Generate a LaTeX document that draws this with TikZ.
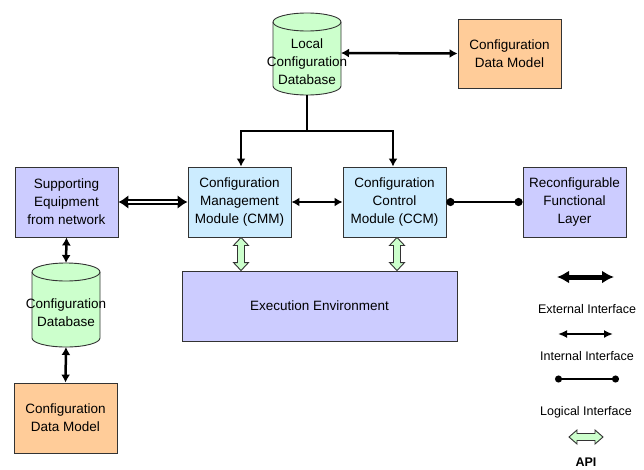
\documentclass[tikz,border=0pt]{standalone}
\usepackage{fontspec}
\setmainfont{Liberation Sans}
\usetikzlibrary{arrows.meta,calc}
\definecolor{lav}{HTML}{CCCCFF}
\definecolor{lblue}{HTML}{CCECFF}
\definecolor{lgreen}{HTML}{CCFFCC}
\definecolor{lorange}{HTML}{FFCC99}
\definecolor{bord}{HTML}{333333}
\tikzset{
  box/.style={draw=bord, line width=0.9pt, minimum width=103pt, minimum height=70pt, inner sep=0pt, align=center, font=\fontsize{13.5}{18}\selectfont},
  lavbox/.style={box, fill=lav},
  bluebox/.style={box, fill=lblue},
  orbox/.style={box, fill=lorange, minimum height=69pt},
  dbtext/.style={inner sep=0pt, align=center, font=\fontsize{13.5}{18}\selectfont},
  dbshape/.style={draw=bord, line width=0.9pt, fill=lgreen},
  intarrow/.style={line width=2.5pt, {Latex[length=8pt,width=9pt]}-{Latex[length=8pt,width=9pt]}},
  treearrow/.style={line width=2.5pt, -{Latex[length=8pt,width=9pt]}},
  extarrow/.style={line width=6.5pt, {Latex[length=10pt,width=14pt]}-{Latex[length=10pt,width=14pt]}},
  extgap/.style={white, line width=1.4pt, shorten <=10pt, shorten >=10pt},
  logarrow/.style={line width=2.4pt, {Circle[length=8pt,width=8pt]}-{Circle[length=8pt,width=8pt]}},
  apistyle/.style={draw=bord, line width=0.9pt, fill=lgreen, line join=miter},
  legtext/.style={inner sep=0pt, font=\fontsize{12.5}{15}\selectfont},
}
\begin{document}
\begin{tikzpicture}[x=1pt,y=-1pt]
\useasboundingbox (0,0) rectangle (644,469);
\clip (0,0) rectangle (644,469);
% Local configuration database cylinder
\filldraw[dbshape] (273,22) -- (273,86) arc[start angle=180,end angle=0,x radius=34,y radius=9]
  -- (341,22) arc[start angle=0,end angle=-180,x radius=34,y radius=9] -- cycle;
\draw[draw=bord, line width=0.9pt] (273,22) arc[start angle=180,end angle=0,x radius=34,y radius=9];
\node[dbtext] (ldb) at (307,62) {Local\\Configuration\\Database};
\coordinate (ldbS) at (307,95);
\coordinate (ldbE) at (341,53);
\coordinate (junc) at (307,131);

% Configuration database cylinder (left)
\filldraw[dbshape] (32,272) -- (32,338) arc[start angle=180,end angle=0,x radius=34,y radius=9]
  -- (100,272) arc[start angle=0,end angle=-180,x radius=34,y radius=9] -- cycle;
\draw[draw=bord, line width=0.9pt] (32,272) arc[start angle=180,end angle=0,x radius=34,y radius=9];
\node[dbtext] (cdb) at (66,313) {Configuration\\Database};
\coordinate (cdbN) at (66,263);
\coordinate (cdbS) at (66,347);

% Boxes
\node[orbox] (cdm1) at (509.5,53.5) {Configuration\\Data Model};
\node[lavbox] (sup) at (66.5,202) {Supporting\\Equipment\\from network};
\node[bluebox] (cmm) at (239.5,202) {Configuration\\Management\\Module (CMM)};
\node[bluebox] (ccm) at (394.5,202) {Configuration\\Control\\Module (CCM)};
\node[lavbox] (rfl) at (574.5,202) {Reconfigurable\\Functional\\Layer};
\node[lavbox, minimum width=275pt] (exec) at (319.5,306) {Execution Environment};
\node[orbox, minimum width=103pt, minimum height=70pt] (cdm2) at (65.5,418) {Configuration\\Data Model};

% Connectors
\draw[intarrow] (ldbE) -- (cdm1.west);
\draw[line width=2.5pt] (ldbS) -- (junc);
\draw[treearrow] (junc) -| ([xshift=1.5pt]cmm.north);
\draw[treearrow] (junc) -| ([xshift=-1.5pt]ccm.north);
\draw[extarrow] (sup.east) -- (cmm.west);
\draw[extgap] (sup.east) -- (cmm.west);
\draw[intarrow] (cmm.east) -- (ccm.west);
\draw[logarrow] (ccm.east) -- (rfl.west);
\draw[intarrow] (sup.south) -- (cdbN);
\draw[intarrow] (cdbS) -- (cdm2.north);

% API arrows (vertical)
\draw[apistyle] let \p1=([xshift=1.5pt]cmm.south), \p2=(exec.north) in
  (\x1,\y1) -- (\x1+7.5pt,\y1-8pt) -- (\x1+3.5pt,\y1-8pt) -- (\x1+3.5pt,\y2+8pt) -- (\x1+7.5pt,\y2+8pt)
  -- (\x1,\y2) -- (\x1-7.5pt,\y2+8pt) -- (\x1-3.5pt,\y2+8pt) -- (\x1-3.5pt,\y1-8pt) -- (\x1-7.5pt,\y1-8pt) -- cycle;
\draw[apistyle] let \p1=([xshift=2.5pt]ccm.south), \p2=(exec.north) in
  (\x1,\y1) -- (\x1+7.5pt,\y1-8pt) -- (\x1+3.5pt,\y1-8pt) -- (\x1+3.5pt,\y2+8pt) -- (\x1+7.5pt,\y2+8pt)
  -- (\x1,\y2) -- (\x1-7.5pt,\y2+8pt) -- (\x1-3.5pt,\y2+8pt) -- (\x1-3.5pt,\y1-8pt) -- (\x1-7.5pt,\y1-8pt) -- cycle;

% Legend
\coordinate (e1) at (557,277); \coordinate (e2) at (614,277);
\draw[line width=5pt, {Latex[length=12pt,width=13pt]}-{Latex[length=12pt,width=13pt]}] (e1) -- (e2);
\node[legtext] (lext) at (587,309) {External Interface};
\coordinate (i1) at (558,334); \coordinate (i2) at (613,334);
\draw[line width=2.5pt, {Latex[length=9pt,width=8pt]}-{Latex[length=9pt,width=8pt]}] (i1) -- (i2);
\node[legtext] (lint) at (587,356) {Internal Interface};
\coordinate (l1) at (555,379); \coordinate (l2) at (619,379);
\draw[line width=1.6pt, {Circle[length=7pt,width=7pt]}-{Circle[length=7pt,width=7pt]}] (l1) -- (l2);
\node[legtext] (llog) at (586,412) {Logical Interface};
\coordinate (a1) at (569,437); \coordinate (a2) at (603,437);
\draw[apistyle] let \p1=(a1), \p2=(a2) in
  (\x1,\y1) -- (\x1+8pt,\y1+7pt) -- (\x1+8pt,\y1+3.5pt) -- (\x2-8pt,\y1+3.5pt) -- (\x2-8pt,\y1+7pt)
  -- (\x2,\y1) -- (\x2-8pt,\y1-7pt) -- (\x2-8pt,\y1-3.5pt) -- (\x1+8pt,\y1-3.5pt) -- (\x1+8pt,\y1-7pt) -- cycle;
\node[legtext, font=\fontsize{12.5}{15}\selectfont\bfseries] (lapi) at (586,462) {API};
\end{tikzpicture}
\end{document}
